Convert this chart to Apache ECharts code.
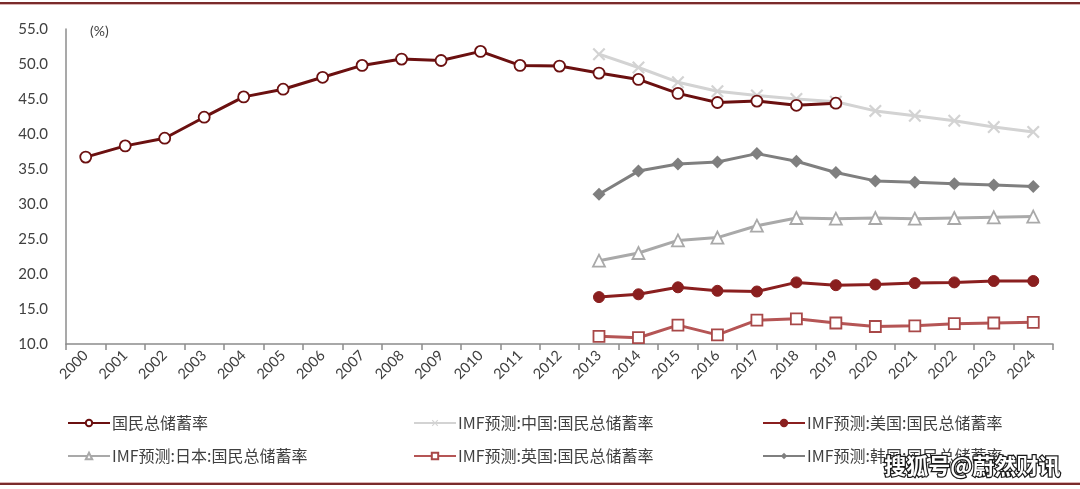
<!DOCTYPE html>
<html>
<head>
<meta charset="utf-8">
<script src="https://cdn.jsdelivr.net/npm/echarts@6/dist/echarts.min.js"></script>
<style>html,body{margin:0;padding:0;background:#fff}#c{width:1080px;height:489px}</style>
</head>
<body>
<div id="c"></div>
<script>
var years = ['2000','2001','2002','2003','2004','2005','2006','2007','2008','2009','2010','2011','2012','2013','2014','2015','2016','2017','2018','2019','2020','2021','2022','2023','2024'];
var yTicks = [10, 15, 20, 25, 30, 35, 40, 45, 50, 55];
// 2000-2019
var nationalSaving = [36.7, 38.3, 39.4, 42.4, 45.3, 46.4, 48.1, 49.8, 50.7, 50.5, 51.8, 49.8, 49.7, 48.7, 47.8, 45.8, 44.5, 44.7, 44.1, 44.4];
// 2013-2024
var imfChina = [51.4, 49.5, 47.4, 46.1, 45.5, 45.0, 44.6, 43.3, 42.6, 41.9, 41.0, 40.3];
var imfUS = [16.7, 17.1, 18.1, 17.6, 17.5, 18.8, 18.4, 18.5, 18.7, 18.8, 19.0, 19.0];
var imfJapan = [21.9, 23.0, 24.8, 25.2, 26.9, 28.0, 27.9, 28.0, 27.9, 28.0, 28.1, 28.2];
var imfUK = [11.1, 10.9, 12.7, 11.3, 13.4, 13.6, 13.0, 12.5, 12.6, 12.9, 13.0, 13.1];
var imfKorea = [31.4, 34.7, 35.7, 36.0, 37.2, 36.1, 34.5, 33.3, 33.1, 32.9, 32.7, 32.5];
var names = ['国民总储蓄率', 'IMF预测:中国:国民总储蓄率', 'IMF预测:美国:国民总储蓄率', 'IMF预测:日本:国民总储蓄率', 'IMF预测:英国:国民总储蓄率', 'IMF预测:韩国:国民总储蓄率'];

function padFrom(startYear, arr) {
  var out = [];
  for (var i = 0; i < years.length; i++) {
    var idx = i - years.indexOf(startYear);
    out.push(idx >= 0 && idx < arr.length ? arr[idx] : null);
  }
  return out;
}

var xPath = 'path://M0,1.2L1.2,0L5,3.8L8.8,0L10,1.2L6.2,5L10,8.8L8.8,10L5,6.2L1.2,10L0,8.8L3.8,5Z';
var font = 'Lato, "Noto Sans CJK SC", sans-serif';

var chart = echarts.init(document.getElementById('c'), null, {renderer: 'canvas'});

function legendAt(name, left, top) {
  return {
    data: [name], left: left, top: top, orient: 'horizontal',
    itemWidth: 42, itemHeight: 8, itemGap: 0, padding: 0,
    selectedMode: false,
    textStyle: {color: '#404040', fontSize: 16, fontFamily: '"Noto Sans CJK SC", sans-serif', padding: [0, 0, 0, -3]}
  };
}

var option = {
  animation: false,
  backgroundColor: '#fff',
  grid: {left: 66, right: 27, top: 29, bottom: 145, containLabel: false},
  xAxis: {
    type: 'category', data: years, boundaryGap: true,
    axisLine: {lineStyle: {color: '#8c8c8c', width: 1.5}},
    axisTick: {show: true, interval: 0, length: 6, alignWithLabel: false, lineStyle: {color: '#8c8c8c', width: 1.5}},
    axisLabel: {interval: 0, rotate: 45, color: '#404040', fontSize: 14.5, fontFamily: font, margin: 9},
    splitLine: {show: false}
  },
  yAxis: {
    type: 'value', min: yTicks[0], max: yTicks[yTicks.length - 1], interval: 5,
    axisLine: {show: true, lineStyle: {color: '#8c8c8c', width: 1.5}},
    axisTick: {show: false},
    axisLabel: {color: '#404040', fontSize: 15, fontFamily: font, margin: 18, formatter: function (v) { return v.toFixed(1); }},
    splitLine: {show: false}
  },
  legend: [
    legendAt(names[0], 67, 415),
    legendAt(names[1], 413, 415),
    legendAt(names[2], 762, 415),
    legendAt(names[3], 67, 448),
    legendAt(names[4], 413, 448),
    legendAt(names[5], 762, 448)
  ],
  graphic: [
    {type: 'text', left: 90, top: 24, style: {text: '(%)', fill: '#404040', font: '14px Lato, sans-serif'}},
    {type: 'rect', shape: {x: 0, y: 2, width: 1080, height: 2}, style: {fill: '#7a2b2b'}},
    {type: 'rect', shape: {x: 0, y: 4, width: 1080, height: 1}, style: {fill: '#d9b3b3'}},
    {type: 'rect', shape: {x: 0, y: 483, width: 1080, height: 2}, style: {fill: '#7a2b2b'}},
    {type: 'rect', shape: {x: 0, y: 482, width: 1080, height: 1}, style: {fill: '#d9b3b3'}},
    {type: 'text', left: 883, top: 453, z: 100, style: {text: '搜狐号@蔚然财讯', fill: '#ffffff', stroke: '#1a1a1a', lineWidth: 2.5, font: 'bold 22px "Noto Sans CJK SC", sans-serif'}}
  ],
  series: [
    {
      name: names[0], type: 'line', data: padFrom('2000', nationalSaving), z: 10,
      symbol: 'circle', symbolSize: 11,
      lineStyle: {color: '#6b1010', width: 3},
      itemStyle: {color: '#ffffff', borderColor: '#6b1010', borderWidth: 1.8}
    },
    {
      name: names[1], type: 'line', data: padFrom('2013', imfChina), z: 3,
      symbol: xPath, symbolSize: 13,
      lineStyle: {color: '#d3d3d3', width: 3},
      itemStyle: {color: '#d3d3d3', borderWidth: 0}
    },
    {
      name: names[2], type: 'line', data: padFrom('2013', imfUS), z: 4,
      symbol: 'circle', symbolSize: 11,
      lineStyle: {color: '#8a1f1f', width: 3},
      itemStyle: {color: '#8a1f1f', borderColor: '#8a1f1f', borderWidth: 1}
    },
    {
      name: names[3], type: 'line', data: padFrom('2013', imfJapan), z: 4,
      symbol: 'triangle', symbolSize: 12,
      lineStyle: {color: '#a9a9a9', width: 3},
      itemStyle: {color: '#ffffff', borderColor: '#a9a9a9', borderWidth: 1.8}
    },
    {
      name: names[4], type: 'line', data: padFrom('2013', imfUK), z: 4,
      symbol: 'rect', symbolSize: 11,
      lineStyle: {color: '#b55555', width: 3},
      itemStyle: {color: '#ffffff', borderColor: '#a84848', borderWidth: 1.8}
    },
    {
      name: names[5], type: 'line', data: padFrom('2013', imfKorea), z: 4,
      symbol: 'diamond', symbolSize: 13,
      lineStyle: {color: '#7f7f7f', width: 3},
      itemStyle: {color: '#7f7f7f', borderWidth: 0}
    }
  ]
};
chart.setOption(option);
</script>
</body>
</html>
